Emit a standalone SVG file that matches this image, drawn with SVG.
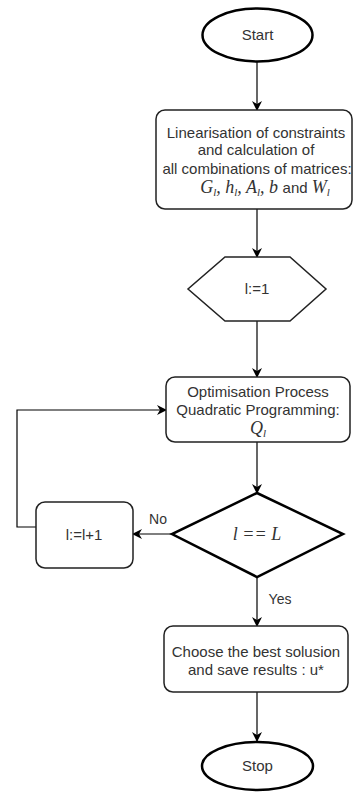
<svg xmlns="http://www.w3.org/2000/svg" width="353" height="792" viewBox="0 0 353 792">
<defs>
<marker id="arr" viewBox="0 0 10 10" refX="9" refY="5" markerWidth="10" markerHeight="10" markerUnits="userSpaceOnUse" orient="auto">
<path d="M0,0 L10,5 L0,10 L3,5 Z" fill="#000"/>
</marker>
<style>
.t{font-family:"Liberation Sans",Arial,sans-serif;font-size:15px;fill:#333;text-anchor:middle}
.m{font-family:"Liberation Serif","Times New Roman",serif;font-style:italic;font-size:18px;fill:#333}
.s{font-size:11px}
.thick{fill:#fff;stroke:#000;stroke-width:2.5}
.box{fill:#fff;stroke:#222;stroke-width:1.5}
.c{fill:none;stroke:#000;stroke-width:1.2;marker-end:url(#arr)}
</style>
</defs>
<rect width="353" height="792" fill="#fff"/>
<g id="connectors">
<path class="c" d="M257,62 V110"/>
<path class="c" d="M257,209 V257"/>
<path class="c" d="M257,321 V377"/>
<path class="c" d="M257,442 V493"/>
<path class="c" d="M172,534 H133"/>
<path class="c" d="M36,527 H17 V410 H166"/>
<path class="c" d="M257,577 V626"/>
<path class="c" d="M257,692 V741"/>
<text class="t" x="158" y="524" style="font-size:14px">No</text>
<text class="t" x="280" y="604" style="font-size:14px">Yes</text>
</g>
<g id="start">
<ellipse class="thick" cx="257.5" cy="35" rx="55" ry="26.5"/>
<text class="t" x="257.5" y="40">Start</text>
</g>
<g id="linearisation">
<rect class="box" x="156" y="110" width="196" height="99" rx="9"/>
<text class="t" x="256" y="138">Linearisation of constraints</text>
<text class="t" x="256" y="155">and calculation of</text>
<text class="t" x="257" y="174">all combinations of matrices:</text>
<text x="265" y="193" text-anchor="middle"><tspan class="m">G</tspan><tspan class="m s" dy="3">l</tspan><tspan class="m" dy="-3">, h</tspan><tspan class="m s" dy="3">l</tspan><tspan class="m" dy="-3">, A</tspan><tspan class="m s" dy="3">l</tspan><tspan class="m" dy="-3">, b </tspan><tspan style="font-family:'Liberation Sans',Arial,sans-serif;font-size:15px;fill:#333">and </tspan><tspan class="m">W</tspan><tspan class="m s" dy="3">l</tspan></text>
</g>
<g id="init">
<polygon class="box" points="225,257 290,257 326,289 290,321 225,321 188,289"/>
<text class="t" x="257" y="294">l:=1</text>
</g>
<g id="optimisation">
<rect class="box" x="166" y="377" width="184" height="65" rx="9"/>
<text class="t" x="258" y="397">Optimisation Process</text>
<text class="t" x="258" y="415">Quadratic Programming:</text>
<text x="258" y="434" text-anchor="middle"><tspan class="m">Q</tspan><tspan class="m s" dy="3">l</tspan></text>
</g>
<g id="decision">
<polygon class="thick" points="257,493 343,534 257,577 172,534"/>
<text x="257" y="540" class="m" style="text-anchor:middle">l == L</text>
</g>
<g id="increment">
<rect class="box" x="36" y="502" width="97" height="66" rx="9"/>
<text class="t" x="84" y="540">l:=l+1</text>
</g>
<g id="choose">
<rect class="box" x="164" y="626" width="184" height="66" rx="9"/>
<text class="t" x="256" y="657">Choose the best solusion</text>
<text class="t" x="256" y="675">and save results : u*</text>
</g>
<g id="stop">
<ellipse class="thick" cx="257.5" cy="766" rx="55.5" ry="24"/>
<text class="t" x="257.5" y="771">Stop</text>
</g>
</svg>
